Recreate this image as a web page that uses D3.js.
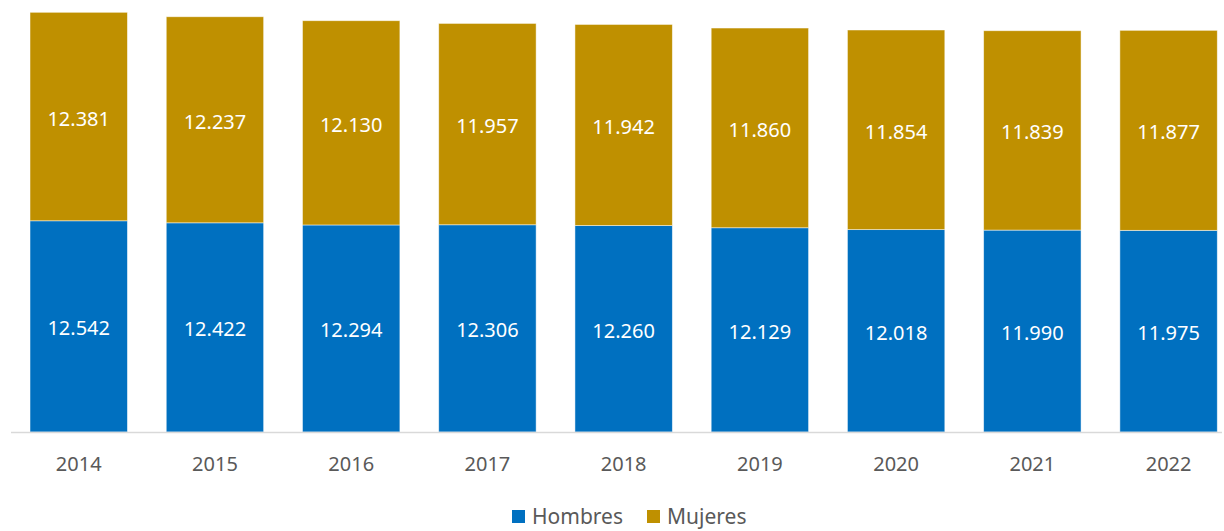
<!DOCTYPE html>
<html>
<head>
<meta charset="utf-8">
<script src="https://cdn.jsdelivr.net/npm/d3@7"></script>
<style>
  body { margin: 0; background: #fff; }
  text { font-family: "Noto Sans", sans-serif; }
</style>
</head>
<body>
<div id="chart"></div>
<script>
// Data
var years = ["2014", "2015", "2016", "2017", "2018", "2019", "2020", "2021", "2022"];
var hombres = [12542, 12422, 12294, 12306, 12260, 12129, 12018, 11990, 11975];
var mujeres = [12381, 12237, 12130, 11957, 11942, 11860, 11854, 11839, 11877];
var seriesNames = ["Hombres", "Mujeres"];
var seriesColors = ["#0070C0", "#BF9000"];

var width = 1224, height = 531;
var baseline = 432;

var svg = d3.select("#chart").append("svg")
  .attr("width", width)
  .attr("height", height);

// build rows for the stack
var rows = years.map(function(y, i) {
  return { year: y, Hombres: hombres[i], Mujeres: mujeres[i] };
});
var stacked = d3.stack().keys(seriesNames)(rows);

var xScale = d3.scaleBand()
  .domain(years)
  .range([10.6, 1236.7])
  .paddingInner(0.285)
  .paddingOuter(0.1425);

var maxTotal = d3.max(rows, function(d) { return d.Hombres + d.Mujeres; });
var yScale = d3.scaleLinear()
  .domain([0, maxTotal])
  .range([baseline, 12.3]);

var fmt = function(v) { return d3.format(",")(v).replace(/,/g, "."); };

var layers = svg.selectAll(".layer")
  .data(stacked)
  .enter().append("g")
  .attr("class", "layer")
  .attr("fill", function(d, i) { return seriesColors[i]; });

layers.selectAll("rect")
  .data(function(d) { return d; })
  .enter().append("rect")
  .attr("x", function(d) { return xScale(d.data.year); })
  .attr("width", xScale.bandwidth())
  .attr("y", function(d) { return yScale(d[1]); })
  .attr("height", function(d) { return yScale(d[0]) - yScale(d[1]); })
  .attr("stroke", "#ffffff")
  .attr("stroke-opacity", 0.6)
  .attr("stroke-width", 0.8);

layers.selectAll("text")
  .data(function(d) { return d; })
  .enter().append("text")
  .attr("x", function(d) { return xScale(d.data.year) + xScale.bandwidth() / 2; })
  .attr("y", function(d) { return (yScale(d[0]) + yScale(d[1])) / 2 + 1.5; })
  .attr("text-anchor", "middle")
  .attr("dominant-baseline", "central")
  .attr("fill", "#ffffff")
  .attr("font-size", 20)
  .text(function(d) { return fmt(d[1] - d[0]); });

// x axis
var xAxis = svg.append("g")
  .attr("transform", "translate(0," + baseline + ")")
  .call(d3.axisBottom(xScale).tickSize(0).tickPadding(25));
xAxis.select(".domain").remove();
xAxis.selectAll("text")
  .attr("fill", "#595959")
  .attr("font-size", 20)
  .style("font-family", "'Noto Sans', sans-serif");

svg.append("line")
  .attr("x1", 11).attr("x2", 1222)
  .attr("y1", baseline + 0.5).attr("y2", baseline + 0.5)
  .attr("stroke", "#d9d9d9")
  .attr("stroke-width", 1.5);

// legend
var legendX = [512, 647];
var legend = svg.selectAll(".legend")
  .data(seriesNames)
  .enter().append("g")
  .attr("class", "legend")
  .attr("transform", function(d, i) { return "translate(" + legendX[i] + ",510)"; });

legend.append("rect")
  .attr("width", 13).attr("height", 13)
  .attr("fill", function(d, i) { return seriesColors[i]; });

legend.append("text")
  .attr("x", 20)
  .attr("y", 6)
  .attr("dominant-baseline", "central")
  .attr("fill", "#595959")
  .attr("font-size", 21)
  .text(function(d) { return d; });
</script>
</body>
</html>
